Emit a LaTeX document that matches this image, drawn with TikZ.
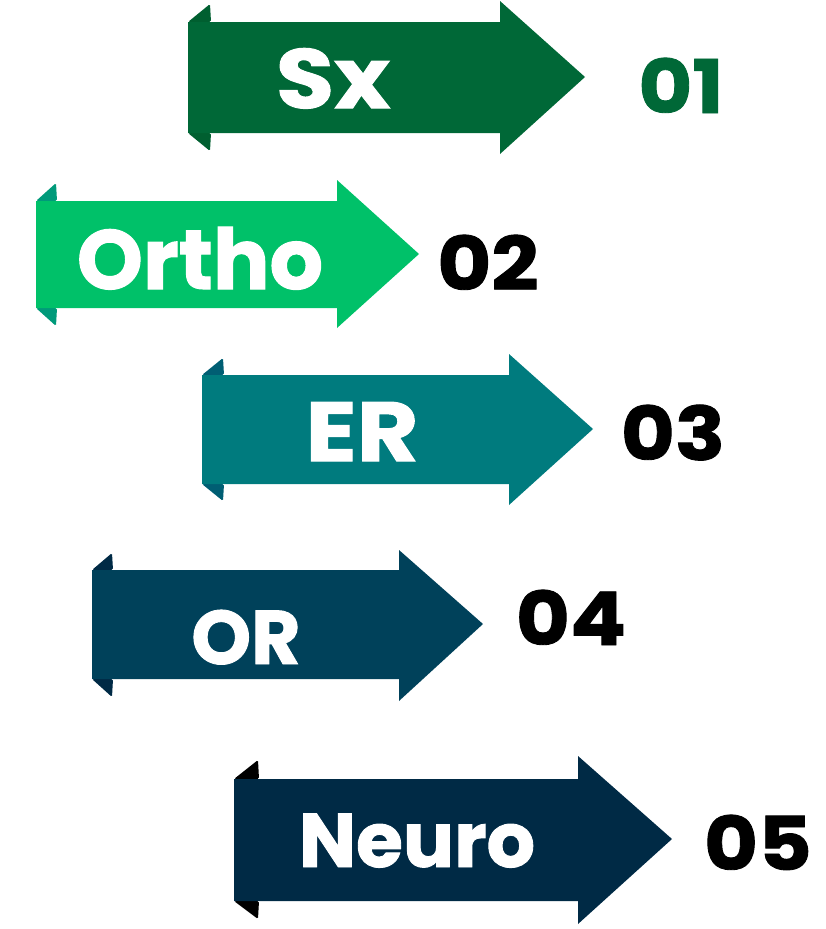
\documentclass[tikz,border=0pt]{standalone}
\usepackage{fontspec}
\setmainfont{Poppins}[BoldFeatures={FakeBold=1.2}]
\usepackage{xcolor}
\usepackage{tikz}
\usetikzlibrary{positioning}
\definecolor{sxfill}{HTML}{006837}
\definecolor{sxtab}{HTML}{005F30}
\definecolor{orthofill}{HTML}{00C169}
\definecolor{orthotab}{HTML}{009A7A}
\definecolor{erfill}{HTML}{007B7E}
\definecolor{ertab}{HTML}{005E73}
\definecolor{orfill}{HTML}{00415A}
\definecolor{ortab}{HTML}{002A45}
\definecolor{neurofill}{HTML}{002A45}
\definecolor{neurotab}{HTML}{000000}
\tikzset{
    tab/.style={
        rounded corners=1.5pt
    },
    arrowtext/.style={
        anchor=base,
        inner sep=0pt,
        text=white,
        font=\fontsize{84}{84}\selectfont\bfseries
    },
    widetext/.style={
        arrowtext,
        font=\fontsize{84}{84}\selectfont\bfseries\addfontfeature{FakeStretch=1.13}
    },
    smalltext/.style={
        arrowtext,
        font=\fontsize{76}{76}\selectfont\bfseries
    },
    numtext/.style={
        anchor=base,
        inner sep=0pt,
        text=black,
        font=\fontsize{74}{74}\selectfont\bfseries\addfontfeature{FakeStretch=1.12}
    }
}

\begin{document}
\begin{tikzpicture}[x=1pt, y=-1pt]
\useasboundingbox (0,0) rectangle (826,929);

% Sx
\fill[sxtab, tab] (188,22) -- (210,4) -- (211,22) -- cycle;
\fill[sxtab, tab] (188,133) -- (210,151) -- (211,133) -- cycle;
\fill[sxfill] (188,22) -- (500,22) -- (500,1) -- (585,77) -- (500,154) -- (500,133) -- (188,133) -- cycle;
\node[widetext] (sx) at (333,108) {Sx};
\node[numtext, text=sxfill] (n01) at (681,113) {01};

% Ortho
\fill[orthotab, tab] (36,201) -- (56,183) -- (57,201) -- cycle;
\fill[orthotab, tab] (36,308) -- (56,326) -- (57,308) -- cycle;
\fill[orthofill] (36,201) -- (337,201) -- (337,180) -- (419,254) -- (337,328) -- (337,308) -- (36,308) -- cycle;
\node[arrowtext] (ortho) at (200,289) {Ortho};
\node[numtext] (n02) at (488,290) {02};

% ER
\fill[ertab, tab] (202,375) -- (223,358) -- (224,375) -- cycle;
\fill[ertab, tab] (202,484) -- (223,501) -- (224,484) -- cycle;
\fill[erfill] (202,375) -- (509,375) -- (509,354) -- (593,429) -- (509,505) -- (509,484) -- (202,484) -- cycle;
\node[widetext] (er) at (362,461) {ER};
\node[numtext] (n03) at (673,460) {03};

% OR
\fill[ortab, tab] (92,570) -- (112,553) -- (113,570) -- cycle;
\fill[ortab, tab] (92,679) -- (112,697) -- (113,679) -- cycle;
\fill[orfill] (92,570) -- (399,570) -- (399,550) -- (483,624) -- (399,701) -- (399,679) -- (92,679) -- cycle;
\node[smalltext] (or) at (246,664) {OR};
\node[numtext] (n04) at (571,645) {04};

% Neuro
\fill[neurotab, tab] (234,779) -- (258,760) -- (259,779) -- cycle;
\fill[neurotab, tab] (234,901) -- (258,919) -- (259,901) -- cycle;
\fill[neurofill] (234,779) -- (578,779) -- (578,756) -- (672,839) -- (578,924) -- (578,901) -- (234,901) -- cycle;
\node[smalltext] (neuro) at (417,867) {Neuro};
\node[numtext] (n05) at (758,870) {05};

\end{tikzpicture}
\end{document}
